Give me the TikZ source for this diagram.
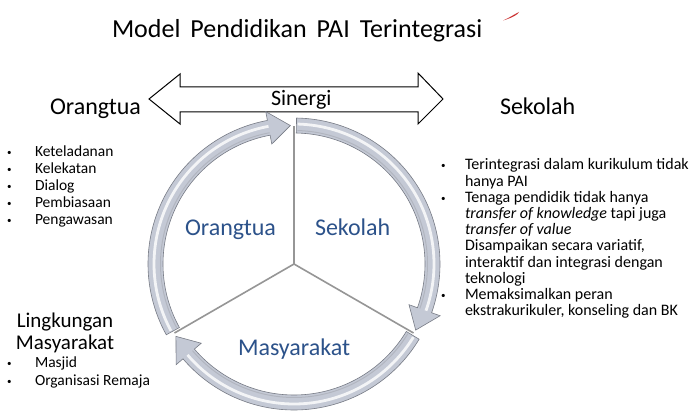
\documentclass[tikz,border=0pt]{standalone}
\usepackage{fontspec}
\setmainfont{Carlito}
\usetikzlibrary{calc}
\definecolor{ringfill}{RGB}{196,201,213}
\definecolor{ringedge}{RGB}{120,124,134}
\definecolor{spokegray}{RGB}{150,150,150}
\definecolor{midblue}{RGB}{44,82,138}
\definecolor{brushred}{RGB}{205,55,55}
\newcommand{\fs}[2]{\fontsize{#1}{#2}\selectfont}
\newcommand{\ringarrow}[2]{%
  \fill[ringfill,draw=ringedge,line width=0.6pt]
    ($(c)+(#1:146pt)$) arc[start angle=#1, end angle=#2+9, radius=146pt]
    -- ($(c)+(#2+9:155pt)$) -- ($(c)+(#2:138.5pt)$) -- ($(c)+(#2+9:122pt)$)
    -- ($(c)+(#2+9:131pt)$) arc[start angle=#2+9, end angle=#1, radius=131pt] -- cycle;
  \draw[white,opacity=0.8,line width=2.8pt]
    ($(c)+(#1-0.5:140pt)$) arc[start angle=#1-0.5, end angle=#2+9, radius=140pt];
  \draw[ringedge!70,opacity=0.5,line width=1pt]
    ($(c)+(#1-0.5:133.5pt)$) arc[start angle=#1-0.5, end angle=#2+9, radius=133.5pt];
}
\tikzset{
  txt/.style={inner sep=0pt, outer sep=0pt},
  bul/.style={txt, font=\fs{15.5}{17}},
  rbul/.style={txt, font=\fs{16}{17}},
  dotmark/.style={txt, font=\fs{9}{10}},
  sidelab/.style={txt, font=\fs{24}{26}},
  midlab/.style={txt, font=\fs{24}{26}, text=midblue},
  blockarrow/.style={draw=black, fill=white, line width=1pt, line join=miter},
  spoke/.style={draw=spokegray, line width=1.6pt}
}
\begin{document}
\begin{tikzpicture}[x=1pt,y=1pt]
\useasboundingbox (0,0) rectangle (699,410);
\fill[white] (0,0) rectangle (699,410);

% title
\node[txt, font=\fs{26}{28}, anchor=base west] (title) at (112,372) {\spaceskip=10pt Model Pendidikan PAI Terintegrasi};
\fill[brushred] (503,389.5) .. controls (509,392) and (513,395) .. (519,398)
  .. controls (518,395.5) and (513,392.5) .. (503,389.5) -- cycle;

% double block arrow
\draw[blockarrow] (149,311) -- (180,336) -- (180,323) -- (418,323) -- (418,337)
  -- (443,311) -- (418,286) -- (418,298) -- (180,298) -- (180,286) -- cycle;

% ring
\coordinate (c) at (294,146);
\coordinate (s1) at ($(c)+(90:138pt)$);
\coordinate (s2) at ($(c)+(-30:138pt)$);
\coordinate (s3) at ($(c)+(210:138pt)$);
\draw[spoke] (c) -- (s1);
\draw[spoke] (c) -- (s2);
\draw[spoke] (c) -- (s3);
\ringarrow{209}{91.5}
\ringarrow{89}{-28.5}
\ringarrow{-31}{-148.5}

% labels on arrow
\node[txt, font=\fs{22}{24}, anchor=base west] (sinergi) at (271,304) {Sinergi};
\node[sidelab, anchor=base west] (ortu) at (50,295) {Orangtua};
\node[sidelab, anchor=base west] (sekolah) at (500,295) {Sekolah};

% centre labels
\node[midlab, anchor=base west] (mortu) at (185,174) {Orangtua};
\node[midlab, anchor=base west] (msek) at (315,174) {Sekolah};
\node[midlab, anchor=base west] (mmas) at (238,55) {Masyarakat};

% left bullets
\foreach \t/\yy [count=\i] in {Keteladanan/253, Kelekatan/236, Dialog/219, Pembiasaan/202, Pengawasan/185}{
  \node[dotmark, anchor=base west] (ld\i) at (7,\yy+1) {•};
  \node[bul, anchor=base west] (lt\i) at (35,\yy) {\t};
}

% right bullets
\node[dotmark, anchor=base west] (rd1) at (441,241) {•};
\node[dotmark, anchor=base west] (rd2) at (441,208.6) {•};
\node[dotmark, anchor=base west] (rd3) at (441,111.4) {•};
\node[rbul, anchor=base west] (r1) at (465,240) {Terintegrasi dalam kurikulum tidak};
\node[rbul, anchor=base west] (r2) at (465,223.8) {hanya PAI};
\node[rbul, anchor=base west] (r3) at (465,207.6) {Tenaga pendidik tidak hanya};
\node[rbul, anchor=base west] (r4) at (465,191.4) {\textit{transfer of knowledge} tapi juga};
\node[rbul, anchor=base west] (r5) at (465,175.2) {\textit{transfer of value}};
\node[rbul, anchor=base west] (r6) at (465,159) {Disampaikan secara variatif,};
\node[rbul, anchor=base west] (r7) at (465,142.8) {interaktif dan integrasi dengan};
\node[rbul, anchor=base west] (r8) at (465,126.6) {teknologi};
\node[rbul, anchor=base west] (r9) at (465,110.4) {Memaksimalkan peran};
\node[rbul, anchor=base west] (r10) at (465,94.2) {ekstrakurikuler, konseling dan BK};

% lingkungan masyarakat
\node[txt, font=\fs{21}{23}, anchor=base] (ling) at (65,82) {Lingkungan};
\node[txt, font=\fs{21}{23}, anchor=base] (masy) at (65,60) {Masyarakat};
\node[dotmark, anchor=base west] (md1) at (7,44) {•};
\node[dotmark, anchor=base west] (md2) at (7,26) {•};
\node[bul, anchor=base west] (mt1) at (35,43) {Masjid};
\node[bul, anchor=base west] (mt2) at (35,25) {Organisasi Remaja};
\end{tikzpicture}
\end{document}
